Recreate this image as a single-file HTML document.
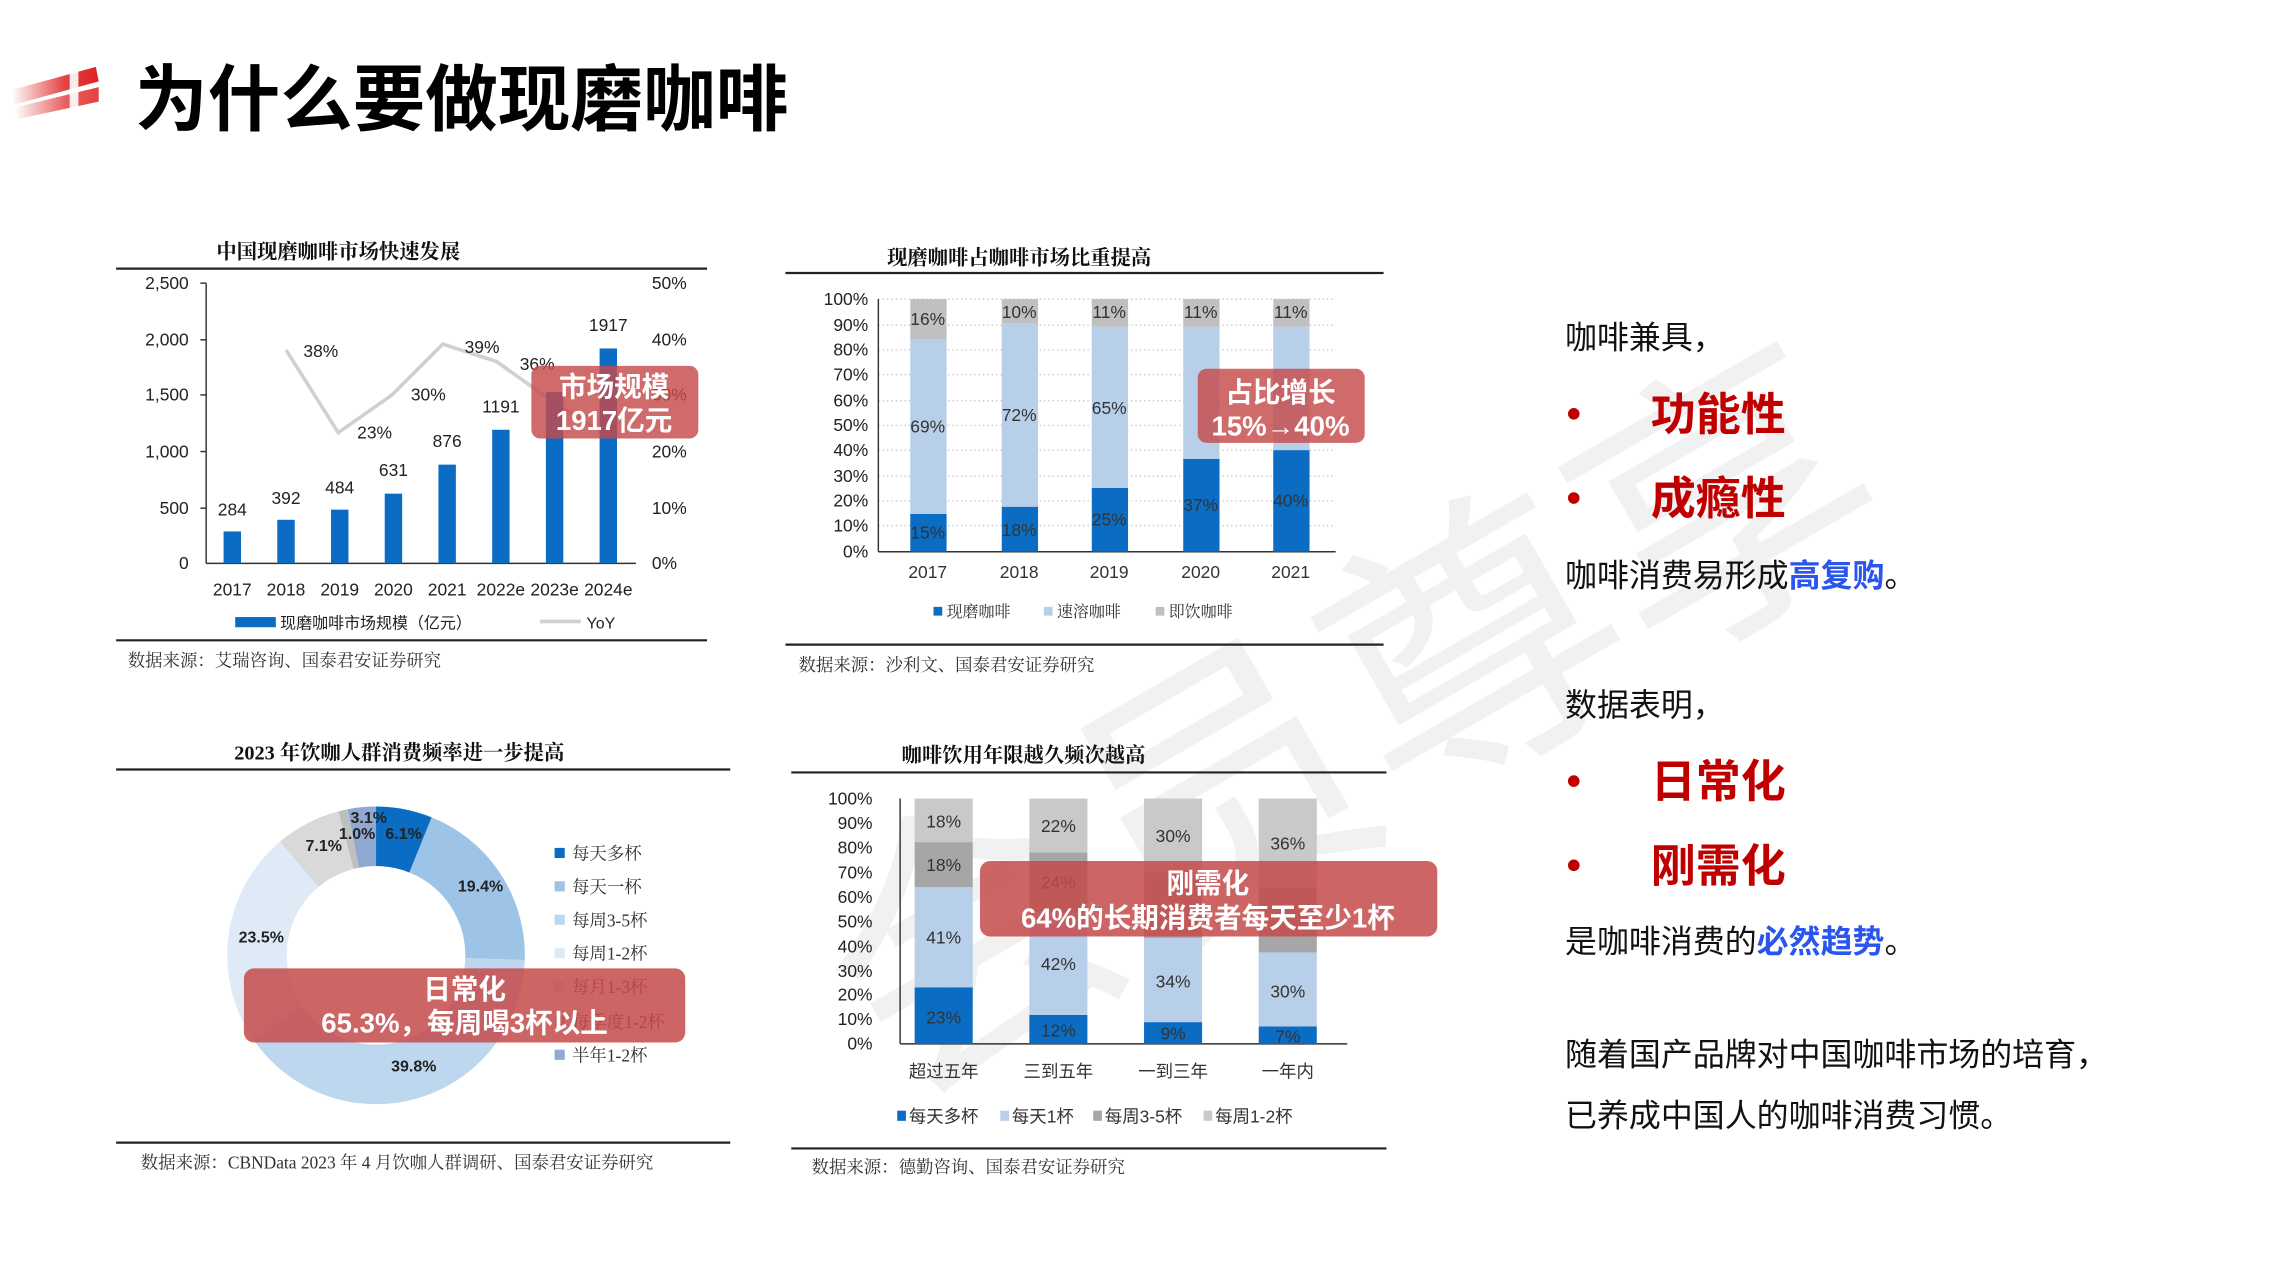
<!DOCTYPE html>
<html><head><meta charset="utf-8"><style>
html,body{margin:0;padding:0;background:#fff;}
svg{display:block;}
text{font-family:"Liberation Sans","Noto Sans CJK SC",sans-serif;}
.s{font-family:"Liberation Serif","Noto Serif CJK SC",serif;}
</style></head><body>
<svg width="2275" height="1280" viewBox="0 0 1567 881.6" xmlns="http://www.w3.org/2000/svg">
<defs>
<linearGradient id="lg" x1="0" x2="1" y1="0" y2="0"><stop offset="0" stop-color="#e03030" stop-opacity="0"/><stop offset="0.6" stop-color="#e03030" stop-opacity="0.9"/><stop offset="1" stop-color="#e02020"/></linearGradient>
</defs>
<rect width="1567" height="882" fill="#fff"/>
<polygon points="8,62 66,46 68,56 10,72" fill="url(#lg)"/>
<polygon points="10,74 68,60 68,70 12,82" fill="url(#lg)" opacity="0.85"/>
<rect x="48" y="47" width="6" height="32" fill="#fff" opacity="0.9"/>
<text x="93" y="86" font-size="50" font-weight="bold" fill="#000">为什么要做现磨咖啡</text>

<text x="500" y="640" font-size="200" fill="#000" opacity="0.05" transform="rotate(-30 780 480)">会员尊享</text>

<!-- Chart 1 -->
<text x="233" y="178" class="s" font-size="14" font-weight="bold" text-anchor="middle" fill="#111">中国现磨咖啡市场快速发展</text>
<line x1="80" y1="185" x2="487" y2="185" stroke="#222" stroke-width="1.5"/>
<line x1="142" y1="195" x2="142" y2="388" stroke="#333"/>
<line x1="142" y1="388" x2="438" y2="388" stroke="#333"/>
<g font-size="12" fill="#222" text-anchor="end">
<text x="130" y="199">2,500</text><text x="130" y="238">2,000</text><text x="130" y="276">1,500</text><text x="130" y="315">1,000</text><text x="130" y="354">500</text><text x="130" y="392">0</text>
</g>
<g font-size="12" fill="#222">
<text x="449" y="199">50%</text><text x="449" y="238">40%</text><text x="449" y="276">30%</text><text x="449" y="315">20%</text><text x="449" y="354">10%</text><text x="449" y="392">0%</text>
</g>
<g stroke="#333"><line x1="138" y1="195" x2="142" y2="195"/><line x1="138" y1="234" x2="142" y2="234"/><line x1="138" y1="272" x2="142" y2="272"/><line x1="138" y1="311" x2="142" y2="311"/><line x1="138" y1="350" x2="142" y2="350"/></g>
<polyline points="197,241 233,298 270,272 305,237 342,249 380,276 418,300" fill="none" stroke="#d0d0d0" stroke-width="2.5"/>
<g fill="#0b6cc4">
<rect x="154" y="366" width="12" height="22"/><rect x="191" y="358" width="12" height="30"/><rect x="228" y="351" width="12" height="37"/><rect x="265" y="340" width="12" height="48"/><rect x="302" y="320" width="12" height="68"/><rect x="339" y="296" width="12" height="92"/><rect x="376" y="270" width="12" height="118"/><rect x="413" y="240" width="12" height="148"/>
</g>
<g font-size="12" fill="#222" text-anchor="middle">
<text x="160" y="355">284</text><text x="197" y="347">392</text><text x="234" y="340">484</text><text x="271" y="328">631</text><text x="308" y="308">876</text><text x="345" y="284">1191</text><text x="419" y="228">1917</text>
<text x="221" y="246">38%</text><text x="258" y="302">23%</text><text x="295" y="276">30%</text><text x="332" y="243">39%</text><text x="370" y="255">36%</text>
<text x="160" y="410">2017</text><text x="197" y="410">2018</text><text x="234" y="410">2019</text><text x="271" y="410">2020</text><text x="308" y="410">2021</text><text x="345" y="410">2022e</text><text x="382" y="410">2023e</text><text x="419" y="410">2024e</text>
</g>
<rect x="162" y="425" width="28" height="7" fill="#0b6cc4"/>
<text x="193" y="433" font-size="11" fill="#222">现磨咖啡市场规模（亿元）</text>
<line x1="372" y1="428" x2="400" y2="428" stroke="#d0d0d0" stroke-width="2.5"/>
<text x="404" y="433" font-size="11" fill="#222">YoY</text>
<rect x="366" y="252" width="115" height="50" rx="6" fill="#c64a4a" opacity="0.82"/>
<text x="423" y="273" font-size="19" font-weight="bold" fill="#fff" text-anchor="middle">市场规模</text>
<text x="423" y="296" font-size="19" font-weight="bold" fill="#fff" text-anchor="middle">1917亿元</text>
<line x1="80" y1="441" x2="487" y2="441" stroke="#222" stroke-width="1.5"/>
<text x="88" y="459" class="s" font-size="12" fill="#333">数据来源：艾瑞咨询、国泰君安证券研究</text>

<!-- Chart 2 -->
<text x="702" y="182" class="s" font-size="14" font-weight="bold" text-anchor="middle" fill="#111">现磨咖啡占咖啡市场比重提高</text>
<line x1="541" y1="188" x2="953" y2="188" stroke="#222" stroke-width="1.5"/>
<g stroke="#ccc" stroke-dasharray="1,2">
<line x1="605" y1="206" x2="920" y2="206"/><line x1="605" y1="224" x2="920" y2="224"/><line x1="605" y1="241" x2="920" y2="241"/><line x1="605" y1="258" x2="920" y2="258"/><line x1="605" y1="276" x2="920" y2="276"/><line x1="605" y1="293" x2="920" y2="293"/><line x1="605" y1="310" x2="920" y2="310"/><line x1="605" y1="328" x2="920" y2="328"/><line x1="605" y1="345" x2="920" y2="345"/><line x1="605" y1="362" x2="920" y2="362"/>
</g>
<line x1="605" y1="206" x2="605" y2="380" stroke="#333"/><line x1="605" y1="380" x2="920" y2="380" stroke="#333"/>
<g font-size="12" fill="#222" text-anchor="end">
<text x="598" y="210">100%</text><text x="598" y="228">90%</text><text x="598" y="245">80%</text><text x="598" y="262">70%</text><text x="598" y="280">60%</text><text x="598" y="297">50%</text><text x="598" y="314">40%</text><text x="598" y="332">30%</text><text x="598" y="349">20%</text><text x="598" y="366">10%</text><text x="598" y="384">0%</text>
</g>
<g>
<rect x="627" y="354" width="25" height="26" fill="#0b6cc4"/><rect x="627" y="234" width="25" height="120" fill="#b8cfe9"/><rect x="627" y="206" width="25" height="28" fill="#c0c0c0"/>
<rect x="690" y="349" width="25" height="31" fill="#0b6cc4"/><rect x="690" y="223" width="25" height="126" fill="#b8cfe9"/><rect x="690" y="206" width="25" height="17" fill="#c0c0c0"/>
<rect x="752" y="336" width="25" height="44" fill="#0b6cc4"/><rect x="752" y="225" width="25" height="111" fill="#b8cfe9"/><rect x="752" y="206" width="25" height="19" fill="#c0c0c0"/>
<rect x="815" y="316" width="25" height="64" fill="#0b6cc4"/><rect x="815" y="225" width="25" height="91" fill="#b8cfe9"/><rect x="815" y="206" width="25" height="19" fill="#c0c0c0"/>
<rect x="877" y="310" width="25" height="70" fill="#0b6cc4"/><rect x="877" y="225" width="25" height="85" fill="#b8cfe9"/><rect x="877" y="206" width="25" height="19" fill="#c0c0c0"/>
</g>
<g font-size="12" fill="#333" text-anchor="middle">
<text x="639" y="224">16%</text><text x="639" y="298">69%</text><text x="639" y="371">15%</text>
<text x="702" y="219">10%</text><text x="702" y="290">72%</text><text x="702" y="369">18%</text>
<text x="764" y="219">11%</text><text x="764" y="285">65%</text><text x="764" y="362">25%</text>
<text x="827" y="219">11%</text><text x="827" y="352">37%</text>
<text x="889" y="219">11%</text><text x="889" y="349">40%</text>
<text x="639" y="398">2017</text><text x="702" y="398">2018</text><text x="764" y="398">2019</text><text x="827" y="398">2020</text><text x="889" y="398">2021</text>
</g>
<g font-size="11" fill="#333">
<rect x="643" y="418" width="6" height="6" fill="#0b6cc4"/><text x="652" y="425" class="s">现磨咖啡</text>
<rect x="719" y="418" width="6" height="6" fill="#b8cfe9"/><text x="728" y="425" class="s">速溶咖啡</text>
<rect x="796" y="418" width="6" height="6" fill="#c0c0c0"/><text x="805" y="425" class="s">即饮咖啡</text>
</g>
<rect x="825" y="254" width="115" height="51" rx="6" fill="#c64a4a" opacity="0.82"/>
<text x="882" y="277" font-size="19" font-weight="bold" fill="#fff" text-anchor="middle">占比增长</text>
<text x="882" y="300" font-size="19" font-weight="bold" fill="#fff" text-anchor="middle">15%→40%</text>
<line x1="541" y1="444" x2="953" y2="444" stroke="#222" stroke-width="1.5"/>
<text x="550" y="462" class="s" font-size="12" fill="#333">数据来源：沙利文、国泰君安证券研究</text>

<!-- Chart 3 donut -->
<text x="275" y="523" class="s" font-size="14" font-weight="bold" text-anchor="middle" fill="#111">2023 年饮咖人群消费频率进一步提高</text>
<line x1="80" y1="530" x2="503" y2="530" stroke="#222" stroke-width="1.5"/>
<g transform="rotate(-90 259 658)" fill="none" stroke-width="41">
<circle cx="259" cy="658" r="82" stroke="#0b6cc4" stroke-dasharray="31.43 600" stroke-dashoffset="0"/>
<circle cx="259" cy="658" r="82" stroke="#9dc3e6" stroke-dasharray="99.95 600" stroke-dashoffset="-31.43"/>
<circle cx="259" cy="658" r="82" stroke="#bdd7ee" stroke-dasharray="205.05 600" stroke-dashoffset="-131.38"/>
<circle cx="259" cy="658" r="82" stroke="#deebf7" stroke-dasharray="121.07 600" stroke-dashoffset="-336.43"/>
<circle cx="259" cy="658" r="82" stroke="#d9d9d9" stroke-dasharray="36.58 600" stroke-dashoffset="-457.5"/>
<circle cx="259" cy="658" r="82" stroke="#bfbfbf" stroke-dasharray="5.15 600" stroke-dashoffset="-494.08"/>
<circle cx="259" cy="658" r="82" stroke="#8fa9d0" stroke-dasharray="15.97 600" stroke-dashoffset="-499.23"/>
</g>
<g font-size="11" font-weight="bold" fill="#222" text-anchor="middle">
<text x="254" y="567">3.1%</text><text x="246" y="578">1.0%</text><text x="278" y="578">6.1%</text><text x="223" y="586">7.1%</text><text x="331" y="614">19.4%</text><text x="180" y="649">23.5%</text><text x="285" y="738">39.8%</text>
</g>
<g font-size="12" fill="#333">
<rect x="382" y="584" width="7" height="7" fill="#0b6cc4"/><text x="394" y="592" class="s">每天多杯</text>
<rect x="382" y="607" width="7" height="7" fill="#9dc3e6"/><text x="394" y="615" class="s">每天一杯</text>
<rect x="382" y="630" width="7" height="7" fill="#bdd7ee"/><text x="394" y="638" class="s">每周3-5杯</text>
<rect x="382" y="653" width="7" height="7" fill="#deebf7"/><text x="394" y="661" class="s">每周1-2杯</text>
<rect x="382" y="676" width="7" height="7" fill="#d9d9d9"/><text x="394" y="684" class="s">每月1-3杯</text>
<rect x="382" y="700" width="7" height="7" fill="#bfbfbf"/><text x="394" y="708" class="s">每季度1-2杯</text>
<rect x="382" y="723" width="7" height="7" fill="#8fa9d0"/><text x="394" y="731" class="s">半年1-2杯</text>
</g>
<rect x="168" y="667" width="304" height="51" rx="7" fill="#c64a4a" opacity="0.85"/>
<text x="320" y="688" font-size="19" font-weight="bold" fill="#fff" text-anchor="middle">日常化</text>
<text x="320" y="711" font-size="19" font-weight="bold" fill="#fff" text-anchor="middle">65.3%，每周喝3杯以上</text>
<line x1="80" y1="787" x2="503" y2="787" stroke="#222" stroke-width="1.5"/>
<text x="97" y="805" class="s" font-size="12" fill="#333">数据来源：CBNData 2023 年 4 月饮咖人群调研、国泰君安证券研究</text>

<!-- Chart 4 -->
<text x="705" y="525" class="s" font-size="14" font-weight="bold" text-anchor="middle" fill="#111">咖啡饮用年限越久频次越高</text>
<line x1="545" y1="532" x2="955" y2="532" stroke="#222" stroke-width="1.5"/>
<line x1="620" y1="550" x2="620" y2="719" stroke="#333"/><line x1="620" y1="719" x2="928" y2="719" stroke="#333"/>
<g font-size="12" fill="#222" text-anchor="end">
<text x="601" y="554">100%</text><text x="601" y="571">90%</text><text x="601" y="588">80%</text><text x="601" y="605">70%</text><text x="601" y="622">60%</text><text x="601" y="639">50%</text><text x="601" y="656">40%</text><text x="601" y="673">30%</text><text x="601" y="689">20%</text><text x="601" y="706">10%</text><text x="601" y="723">0%</text>
</g>
<g>
<rect x="630" y="680" width="40" height="39" fill="#0b6cc4"/><rect x="630" y="611" width="40" height="69" fill="#b8cfe9"/><rect x="630" y="580" width="40" height="31" fill="#a6a6a6"/><rect x="630" y="550" width="40" height="30" fill="#c9c9c9"/>
<rect x="709" y="699" width="40" height="20" fill="#0b6cc4"/><rect x="709" y="628" width="40" height="71" fill="#b8cfe9"/><rect x="709" y="587" width="40" height="41" fill="#a6a6a6"/><rect x="709" y="550" width="40" height="37" fill="#c9c9c9"/>
<rect x="788" y="704" width="40" height="15" fill="#0b6cc4"/><rect x="788" y="646" width="40" height="58" fill="#b8cfe9"/><rect x="788" y="601" width="40" height="45" fill="#a6a6a6"/><rect x="788" y="550" width="40" height="51" fill="#c9c9c9"/>
<rect x="867" y="707" width="40" height="12" fill="#0b6cc4"/><rect x="867" y="656" width="40" height="51" fill="#b8cfe9"/><rect x="867" y="611" width="40" height="45" fill="#a6a6a6"/><rect x="867" y="550" width="40" height="61" fill="#c9c9c9"/>
</g>
<g font-size="12" fill="#333" text-anchor="middle">
<text x="650" y="570">18%</text><text x="650" y="600">18%</text><text x="650" y="650">41%</text><text x="650" y="705">23%</text>
<text x="729" y="573">22%</text><text x="729" y="612">24%</text><text x="729" y="668">42%</text><text x="729" y="714">12%</text>
<text x="808" y="580">30%</text><text x="808" y="680">34%</text><text x="808" y="716">9%</text>
<text x="887" y="585">36%</text><text x="887" y="687">30%</text><text x="887" y="718">7%</text>
<text x="650" y="742">超过五年</text><text x="729" y="742">三到五年</text><text x="808" y="742">一到三年</text><text x="887" y="742">一年内</text>
</g>
<g font-size="12" fill="#333">
<rect x="618" y="765" width="6" height="7" fill="#0b6cc4"/><text x="626" y="773">每天多杯</text>
<rect x="689" y="765" width="6" height="7" fill="#b8cfe9"/><text x="697" y="773">每天1杯</text>
<rect x="753" y="765" width="6" height="7" fill="#a6a6a6"/><text x="761" y="773">每周3-5杯</text>
<rect x="829" y="765" width="6" height="7" fill="#c9c9c9"/><text x="837" y="773">每周1-2杯</text>
</g>
<rect x="675" y="593" width="315" height="52" rx="7" fill="#c64a4a" opacity="0.85"/>
<text x="832" y="615" font-size="19" font-weight="bold" fill="#fff" text-anchor="middle">刚需化</text>
<text x="832" y="639" font-size="19" font-weight="bold" fill="#fff" text-anchor="middle">64%的长期消费者每天至少1杯</text>
<line x1="545" y1="791" x2="955" y2="791" stroke="#222" stroke-width="1.5"/>
<text x="559" y="808" class="s" font-size="12" fill="#333">数据来源：德勤咨询、国泰君安证券研究</text>

<!-- right text -->
<g font-size="22" fill="#111">
<text x="1078" y="240">咖啡兼具，</text>
<circle cx="1084" cy="285" r="4" fill="#c00000"/>
<text x="1137" y="296" font-size="31" font-weight="bold" fill="#c00000">功能性</text>
<circle cx="1084" cy="343" r="4" fill="#c00000"/>
<text x="1137" y="354" font-size="31" font-weight="bold" fill="#c00000">成瘾性</text>
<text x="1078" y="404">咖啡消费易形成<tspan fill="#2a55ee" font-weight="bold">高复购</tspan>。</text>
<text x="1078" y="493">数据表明，</text>
<circle cx="1084" cy="538" r="4" fill="#c00000"/>
<text x="1137" y="549" font-size="31" font-weight="bold" fill="#c00000">日常化</text>
<circle cx="1084" cy="596" r="4" fill="#c00000"/>
<text x="1137" y="607" font-size="31" font-weight="bold" fill="#c00000">刚需化</text>
<text x="1078" y="656">是咖啡消费的<tspan fill="#2a55ee" font-weight="bold">必然趋势</tspan>。</text>
<text x="1078" y="734">随着国产品牌对中国咖啡市场的培育，</text>
<text x="1078" y="776">已养成中国人的咖啡消费习惯。</text>
</g>
</svg>
</body></html>
